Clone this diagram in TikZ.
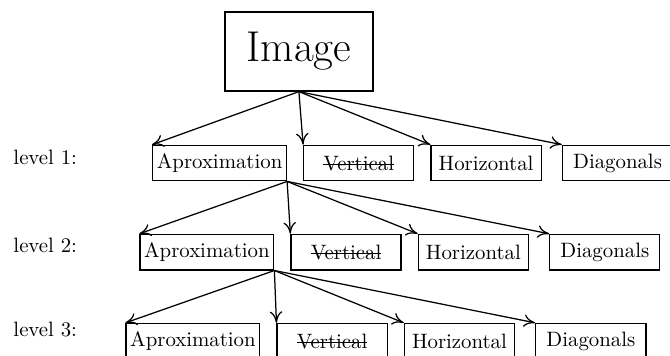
\documentclass[tikz,border=0pt]{standalone}
\usetikzlibrary{positioning,arrows.meta}
% struck-through word, rule laid over the box
\newcommand\strikeword[1]{\setbox0\hbox{#1}\rlap{\rule[0.6ex]{\wd0}{0.5pt}}\box0}
\begin{document}
\begin{tikzpicture}[semithick,>={To[length=5.5pt,width=6pt]},
  band/.style={draw,inner xsep=2pt,minimum height=0.6cm,minimum width=1.86cm},
  lvl/.style={anchor=base west}]
\useasboundingbox (0,0) rectangle (11.32,-6.01);
\node[draw,minimum width=2.5cm,minimum height=1.335cm,font=\huge] (img) at (5.05,-0.87) {Image};

% first level
\node[lvl] (lvla) at (0.10,-2.787) {level 1:};
\node[band] (apxa) at (3.71,-2.755) {Aproximation};
\node[band,right=0.27cm of apxa] (vera) {\strikeword{Vertical}};
\node[band,right=0.27cm of vera] (hora) {Horizontal};
\node[band,right=0.34cm of hora] (diaa) {Diagonals};

% second level
\node[lvl] (lvlb) at (0.10,-4.274) {level 2:};
\node[band] (apxb) at (3.495,-4.26) {Aproximation};
\node[band,right=0.27cm of apxb] (verb) {\strikeword{Vertical}};
\node[band,right=0.27cm of verb] (horb) {Horizontal};
\node[band,right=0.34cm of horb] (diab) {Diagonals};

% third level
\node[lvl] (lvlc) at (0.10,-5.68) {level 3:};
\node[band] (apxc) at (3.26,-5.765) {Aproximation};
\node[band,right=0.27cm of apxc] (verc) {\strikeword{Vertical}};
\node[band,right=0.27cm of verc] (horc) {Horizontal};
\node[band,right=0.34cm of horc] (diac) {Diagonals};

\draw[->] (img.south) -- (apxa.north west);
\draw[->] (img.south) -- (vera.north west);
\draw[->] (img.south) -- (hora.north west);
\draw[->] (img.south) -- (diaa.north west);

\draw[->] (apxa.south east) -- (apxb.north west);
\draw[->] (apxa.south east) -- (verb.north west);
\draw[->] (apxa.south east) -- (horb.north west);
\draw[->] (apxa.south east) -- (diab.north west);

\draw[->] (apxb.south east) -- (apxc.north west);
\draw[->] (apxb.south east) -- (verc.north west);
\draw[->] (apxb.south east) -- (horc.north west);
\draw[->] (apxb.south east) -- (diac.north west);
\end{tikzpicture}
\end{document}
